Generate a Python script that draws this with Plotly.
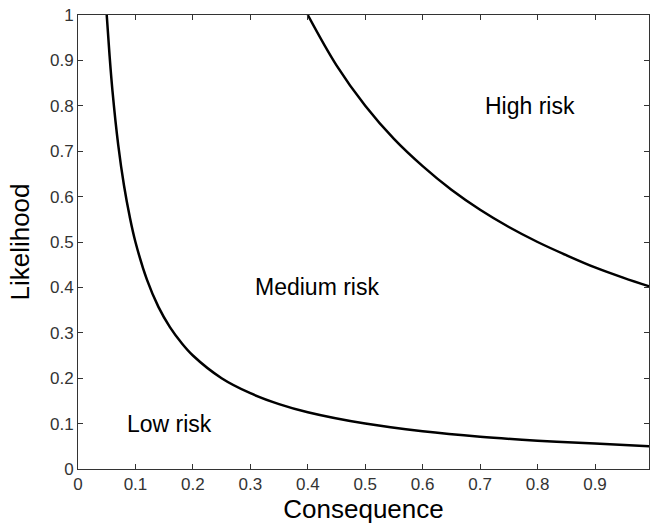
import plotly.graph_objects as go

# Boundary curves
low_x = [0.05, 0.055, 0.06, 0.07, 0.08, 0.09, 0.10, 0.12, 0.14, 0.16, 0.18, 0.20, 0.25, 0.30, 0.35, 0.40, 0.50, 0.60, 0.70, 0.80, 0.90, 0.995]
low_y = [1.00, 0.91, 0.833, 0.714, 0.625, 0.556, 0.50, 0.417, 0.357, 0.3125, 0.278, 0.25, 0.20, 0.167, 0.143, 0.125, 0.10, 0.083, 0.071, 0.0625, 0.056, 0.050]

high_x = [0.40, 0.45, 0.50, 0.55, 0.60, 0.65, 0.70, 0.75, 0.80, 0.85, 0.90, 0.95, 0.995]
high_y = [1.00, 0.889, 0.80, 0.727, 0.667, 0.615, 0.571, 0.533, 0.50, 0.471, 0.444, 0.421, 0.402]

x_ticks = [0, 0.1, 0.2, 0.3, 0.4, 0.5, 0.6, 0.7, 0.8, 0.9]
y_ticks = [0, 0.1, 0.2, 0.3, 0.4, 0.5, 0.6, 0.7, 0.8, 0.9, 1]

labels = ["High risk", "Medium risk", "Low risk"]
label_x = [0.787, 0.416, 0.16]
label_y = [0.80, 0.40, 0.10]

FONT = "Liberation Sans, Arial, Helvetica"

fig = go.Figure()
fig.add_trace(go.Scatter(x=low_x, y=low_y, mode="lines", line=dict(color="black", width=2.5, shape="spline"), showlegend=False))
fig.add_trace(go.Scatter(x=high_x, y=high_y, mode="lines", line=dict(color="black", width=2.5, shape="spline"), showlegend=False))

for t, xx, yy in zip(labels, label_x, label_y):
    fig.add_annotation(x=xx, y=yy, text=t, showarrow=False, font=dict(family=FONT, size=23, color="black"))

axis_common = dict(showgrid=False, zeroline=False, showline=True, linecolor="#333", linewidth=1,
                   mirror="ticks", ticks="inside", ticklen=5, tickcolor="#333",
                   tickfont=dict(family=FONT, size=17, color="#333"))

fig.update_xaxes(range=[0, 0.994], tickvals=x_ticks, ticktext=["%g" % v for v in x_ticks],
                 title=dict(text="Consequence", font=dict(family=FONT, size=26, color="black"), standoff=4),
                 **axis_common)
fig.update_yaxes(range=[0, 1], tickvals=y_ticks, ticktext=["%g" % v for v in y_ticks],
                 title=dict(text="Likelihood", font=dict(family=FONT, size=26, color="black"), standoff=12),
                 **axis_common)

fig.update_layout(width=650, height=525, margin=dict(l=78, r=1, t=15, b=56),
                  plot_bgcolor="white", paper_bgcolor="white")

# remove the page's default body margin so the figure fills the window exactly
fig.write_html("out.html", config={"displayModeBar": False},
               post_script="document.body.style.margin='0';document.body.style.overflow='hidden';")
